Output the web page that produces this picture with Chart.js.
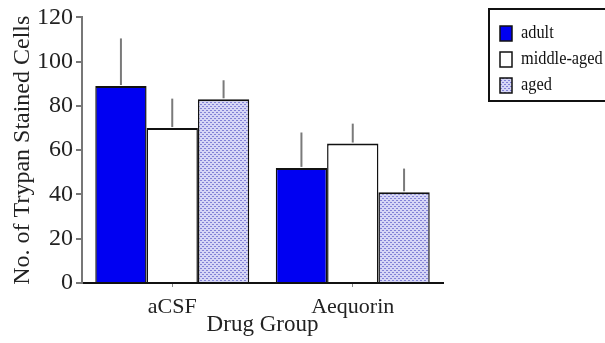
<!DOCTYPE html>
<html>
<head>
<meta charset="utf-8">
<script src="https://cdn.jsdelivr.net/npm/chart.js@4.4.1/dist/chart.umd.min.js"></script>
<style>
  html, body { margin: 0; padding: 0; background: #fff; }
  #wrap { width: 605px; height: 343px; position: relative; }
</style>
</head>
<body>
<div id="wrap"><canvas id="chart" width="605" height="343"></canvas></div>
<script>
const groups = ['aCSF', 'Aequorin'];
const seriesNames = ['adult', 'middle-aged', 'aged'];
const adult = [89, 52];
const middleAged = [70, 63];
const aged = [83, 41];
const adultErr = [21.5, 16];
const middleAgedErr = [13.3, 9];
const agedErr = [8.6, 10.7];
const yTicks = [0, 20, 40, 60, 80, 100, 120];

const serif = "'Liberation Serif', 'DejaVu Serif', serif";

// staggered dot screen, like the old print shading
const makeDots = () => {
  const c = document.createElement('canvas');
  c.width = 4;
  c.height = 4;
  const g = c.getContext('2d');
  g.fillStyle = '#d6d6f6';
  g.fillRect(0, 0, 4, 4);
  g.fillStyle = '#8282d6';
  g.fillRect(0, 0, 2, 1);
  g.fillRect(2, 2, 2, 1);
  return g.createPattern(c, 'repeat');
};
const dots = makeDots();

const fills = ['#0000f2', '#ffffff', dots];

const errorBars = {
  id: 'errorBars',
  afterDatasetsDraw(chart) {
    const { ctx } = chart;
    const y = chart.scales.y;
    ctx.save();
    ctx.strokeStyle = '#7a7a7a';
    ctx.lineWidth = 2;
    chart.data.datasets.forEach((ds, i) => {
      const meta = chart.getDatasetMeta(i);
      meta.data.forEach((bar, j) => {
        const top = y.getPixelForValue(ds.data[j] + ds.err[j]);
        ctx.beginPath();
        ctx.moveTo(bar.x, bar.y - 1);
        ctx.lineTo(bar.x, top);
        ctx.stroke();
      });
    });
    ctx.restore();
  }
};

const boxLegend = {
  id: 'boxLegend',
  afterDraw(chart) {
    const { ctx } = chart;
    const left = 489, top = 9, right = 640, bottom = 101;
    ctx.save();
    ctx.strokeStyle = '#111';
    ctx.lineWidth = 2;
    ctx.strokeRect(left, top, right - left, bottom - top);
    ctx.textBaseline = 'middle';
    chart.data.datasets.forEach((ds, i) => {
      const cy = 33 + i * 26;
      ctx.fillStyle = fills[i];
      ctx.fillRect(500, cy - 7, 12, 15);
      ctx.strokeStyle = '#111';
      ctx.lineWidth = 1.5;
      ctx.strokeRect(500, cy - 7, 12, 15);
      ctx.save();
      ctx.translate(521, cy);
      ctx.scale(0.86, 1);
      ctx.font = `19px ${serif}`;
      ctx.fillStyle = '#111';
      ctx.fillText(ds.label, 0, 0);
      ctx.restore();
    });
    ctx.restore();
  }
};

const mk = (i, data, err) => ({
  label: seriesNames[i],
  data,
  err,
  backgroundColor: fills[i],
  borderColor: '#111',
  borderWidth: { top: 2, left: 1.5, right: 1.5, bottom: 0 },
  borderSkipped: 'bottom'
});

new Chart(document.getElementById('chart'), {
  type: 'bar',
  data: {
    labels: groups,
    datasets: [mk(0, adult, adultErr), mk(1, middleAged, middleAgedErr), mk(2, aged, agedErr)]
  },
  options: {
    responsive: false,
    animation: false,
    layout: { padding: { top: 6, right: 162, left: 4, bottom: 0 } },
    categoryPercentage: 0.853,
    barPercentage: 1,
    plugins: {
      legend: { display: false },
      tooltip: { enabled: false }
    },
    scales: {
      x: {
        grid: { drawOnChartArea: false, offset: false, tickLength: 4, color: '#888' },
        border: { color: '#111', width: 2 },
        ticks: { color: '#222', font: { family: serif, size: 22 }, padding: 7 },
        title: { display: true, text: 'Drug Group', color: '#222', font: { family: serif, size: 23 }, padding: { top: -10 } },
        afterFit: (s) => { s.height = 60; }
      },
      y: {
        min: 0,
        max: 120,
        afterBuildTicks: (s) => {
          const t = [];
          for (let v = 0; v <= 120; v += 10) t.push({ value: v });
          s.ticks = t;
        },
        grid: { drawOnChartArea: false, tickLength: 6, color: '#777', lineWidth: 2 },
        border: { color: '#777', width: 2 },
        ticks: {
          color: '#222',
          font: { family: serif, size: 24 },
          padding: 3,
          callback: (v) => (yTicks.includes(v) ? String(v) : '')
        },
        title: { display: true, text: 'No. of Trypan Stained Cells', color: '#222', font: { family: serif, size: 24 }, padding: { bottom: 0 } },
        afterFit: (s) => { s.width = 78; }
      }
    }
  },
  plugins: [errorBars, boxLegend]
});
</script>
</body>
</html>
